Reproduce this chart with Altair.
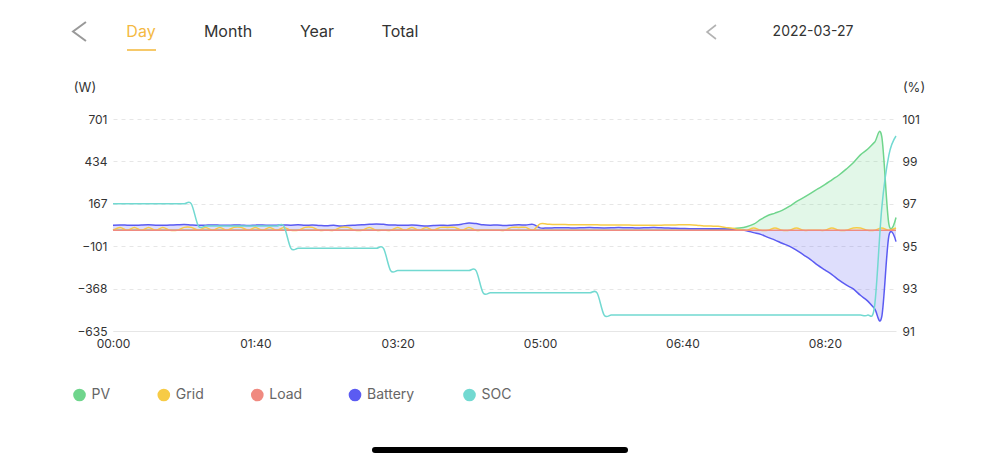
import altair as alt
import pandas as pd

# ---------------- data (5-minute samples, 00:00 .. 09:10) ----------------
minutes = list(range(0, 551, 5))

series_names = ["PV", "Grid", "Load", "Battery", "SOC"]
series_colors = ["#6FD58C", "#F7CB46", "#F08A80", "#5B5BF2", "#72D9D1"]

pv = [
    0, 0, 0, 0, 0, 0, 0, 0, 0, 0, 0, 0,
    0, 0, 0, 0, 0, 0, 0, 0, 0, 0, 0, 0,
    0, 0, 0, 0, 0, 0, 0, 0, 0, 0, 0, 0,
    0, 0, 0, 0, 0, 0, 0, 0, 0, 0, 0, 0,
    0, 0, 0, 0, 0, 0, 0, 0, 0, 0, 0, 0,
    0, 0, 0, 0, 0, 0, 0, 0, 0, 0, 0, 0,
    0, 0, 0, 0, 0, 0, 0, 0, 0, 0, 0, 0,
    3, 5, 8, 10, 14, 22, 38, 68, 93, 108, 125, 150,
    180, 205, 232, 260, 288, 318, 348, 385, 425, 475, 510, 555,
    590, 38, 80,
]
grid = [
    0, 18, 0, 18, 0, 18, 0, 18, 0, 0, 18, 18,
    0, 18, 0, 18, 0, 18, 18, 0, 18, 0, 18, 0,
    18, 0, 0, 18, 18, 0, 0, 0, 18, 18, 0, 0,
    18, 0, 0, 0, 18, 0, 18, 0, 18, 0, 18, 18,
    18, 0, 18, 0, 0, 0, 0, 0, 18, 18, 18, 0,
    40, 38, 36, 36, 35, 35, 34, 34, 34, 33, 33, 33,
    33, 32, 32, 32, 32, 32, 33, 33, 35, 35, 32, 27,
    26, 25, 18, 12, 4, 0, 14, 0, 0, 14, 0, 0,
    14, 0, 0, 0, 0, 14, 0, 0, 14, 14, 0, 0,
    14, 0, 14,
]
load = [
    0, 0, 0, 0, 0, 0, 0, 0, 0, 0, 0, 0,
    0, 0, 0, 0, 0, 0, 0, 0, 0, 0, 0, 0,
    0, 0, 0, 0, 0, 0, 0, 0, 0, 0, 0, 0,
    0, 0, 0, 0, 0, 0, 0, 0, 0, 0, 0, 0,
    0, 0, 0, 0, 0, 0, 0, 0, 0, 0, 0, 0,
    0, 0, 0, 0, 0, 0, 0, 0, 0, 0, 0, 0,
    0, 0, 0, 0, 0, 0, 0, 0, 0, 0, 0, 0,
    0, 0, 0, 0, 0, 0, 0, 0, 0, 0, 0, 0,
    0, 0, 0, 0, 0, 0, 0, 0, 0, 0, 0, 0,
    0, 0, 0,
]
battery = [
    32, 33, 32, 31, 33, 34, 32, 31, 33, 34, 36, 33,
    31, 32, 33, 32, 31, 33, 32, 30, 32, 33, 31, 32,
    33, 32, 34, 31, 33, 30, 28, 31, 26, 30, 32, 34,
    37, 40, 37, 33, 32, 31, 33, 30, 27, 30, 32, 30,
    33, 38, 46, 42, 34, 32, 33, 30, 32, 34, 33, 37,
    15, 14, 15, 16, 15, 14, 16, 17, 15, 14, 15, 17,
    16, 15, 14, 16, 17, 15, 14, 12, 11, 10, 10, 10,
    9, 9, 8, 5, 2, -3, -15, -26, -45, -62, -82, -100,
    -125, -155, -185, -220, -250, -280, -315, -345, -370, -410, -445, -495,
    -545, -35, -72,
]
soc = [
    97.0, 97.0, 97.0, 97.0, 97.0, 97.0, 97.0, 97.0, 97.0, 97.0, 97.0, 97.0,
    95.95, 95.95, 95.95, 95.95, 95.95, 95.95, 95.95, 95.95, 95.95, 95.95, 95.95, 95.95,
    95.95, 94.9, 94.9, 94.9, 94.9, 94.9, 94.9, 94.9, 94.9, 94.9, 94.9, 94.9,
    94.9, 94.9, 94.9, 93.85, 93.85, 93.85, 93.85, 93.85, 93.85, 93.85, 93.85, 93.85,
    93.85, 93.85, 93.85, 93.85, 92.8, 92.8, 92.8, 92.8, 92.8, 92.8, 92.8, 92.8,
    92.8, 92.8, 92.8, 92.8, 92.8, 92.8, 92.8, 92.8, 92.8, 91.75, 91.75, 91.75,
    91.75, 91.75, 91.75, 91.75, 91.75, 91.75, 91.75, 91.75, 91.75, 91.75, 91.75, 91.75,
    91.75, 91.75, 91.75, 91.75, 91.75, 91.75, 91.75, 91.75, 91.75, 91.75, 91.75, 91.75,
    91.75, 91.75, 91.75, 91.75, 91.75, 91.75, 91.75, 91.75, 91.75, 91.75, 91.75, 92.2,
    96.8, 99.3, 100.2,
]

w_ticks = [-635, -368, -101, 167, 434, 701]
pct_ticks = [91, 93, 95, 97, 99, 101]
x_ticks = [0, 100, 200, 300, 400, 500]

tabs = ["Day", "Month", "Year", "Total"]
date_label = "2022-03-27"

# ---------------- frames ----------------
rows = []
for name, vals in [("PV", pv), ("Grid", grid), ("Load", load), ("Battery", battery)]:
    for m, v in zip(minutes, vals):
        rows.append({"minute": m, "value": v, "series": name})
df_w = pd.DataFrame(rows)
df_soc = pd.DataFrame({"minute": minutes, "soc": soc, "series": "SOC"})
one = pd.DataFrame({"k": [0]})

FONT = "Inter"
color_scale = alt.Scale(domain=series_names, range=series_colors)

# plot area origin on the page: (113, 119)
OX, OY = 113, 119
W, H = 783, 212


def px(x):
    return alt.value(x - OX)


def py(y):
    return alt.value(y - OY)


x_enc = alt.X(
    "minute:Q",
    scale=alt.Scale(domain=[0, 550], nice=False, zero=False),
    axis=alt.Axis(
        values=x_ticks,
        labelExpr="pad('' + floor(datum.value / 60), 2, '0', 'left') + ':' + pad('' + (datum.value % 60), 2, '0', 'left')",
        title=None,
        grid=False,
        ticks=False,
        domain=True,
        domainColor="#E6E6E6",
        domainWidth=1,
        labelFont=FONT,
        labelFontSize=12,
        labelColor="#333333",
        labelPadding=7,
        labelFlush=False,
    ),
)

y_w = alt.Y(
    "value:Q",
    scale=alt.Scale(domain=[-635, 701], nice=False, zero=False),
    axis=alt.Axis(
        values=w_ticks,
        title=None,
        grid=True,
        gridDash=[4, 4],
        gridColor="#E6E6E6",
        ticks=False,
        domain=False,
        labelFont=FONT,
        labelFontSize=12,
        labelColor="#333333",
        labelPadding=6,
    ),
)

y_soc = alt.Y(
    "soc:Q",
    scale=alt.Scale(domain=[91, 101], nice=False, zero=False),
    axis=alt.Axis(
        orient="right",
        values=pct_ticks,
        title=None,
        grid=False,
        ticks=False,
        domain=False,
        labelFont=FONT,
        labelFontSize=12,
        labelColor="#333333",
        labelPadding=6,
    ),
)

color_enc = alt.Color("series:N", scale=color_scale, legend=None)

areas = (
    alt.Chart(df_w)
    .transform_filter(alt.FieldOneOfPredicate(field="series", oneOf=["PV", "Battery"]))
    .mark_area(interpolate="cardinal", opacity=0.2)
    .encode(x=x_enc, y=y_w, y2=alt.datum(0), color=color_enc)
)

line_layers = []
for name in ["PV", "Battery", "Grid", "Load"]:
    line_layers.append(
        alt.Chart(df_w)
        .transform_filter(alt.datum.series == name)
        .mark_line(interpolate="cardinal", strokeWidth=1.5)
        .encode(x=x_enc, y=y_w, color=color_enc)
    )

w_layer = alt.layer(areas, *line_layers)

soc_layer = (
    alt.Chart(df_soc)
    .mark_line(interpolate="cardinal", strokeWidth=1.5)
    .encode(x=x_enc, y=y_soc, color=color_enc)
)

# ---------------- header / decorations ----------------
deco = []
tab_x = [141, 228, 317, 400]
for i, t in enumerate(tabs):
    deco.append(
        alt.Chart(one)
        .mark_text(
            text=t,
            font=FONT,
            fontSize=16,
            color="#F4B942" if i == 0 else "#333333",
            align="center",
            baseline="middle",
        )
        .encode(x=px(tab_x[i]), y=py(32))
    )
deco.append(
    alt.Chart(one)
    .mark_rule(color="#F6C96A", strokeWidth=2)
    .encode(x=px(127), x2=px(156), y=py(50))
)
deco.append(
    alt.Chart(one)
    .mark_point(shape="M0.68,-1L-0.68,0L0.68,1", filled=False, size=361,
                strokeWidth=2, color="#999999", opacity=1)
    .encode(x=px(79.5), y=py(31.5))
)
deco.append(
    alt.Chart(one)
    .mark_point(shape="M0.64,-1L-0.64,0L0.64,1", filled=False, size=196,
                strokeWidth=1.6, color="#B3B3B3", opacity=1)
    .encode(x=px(711.5), y=py(32))
)
deco.append(
    alt.Chart(one)
    .mark_text(text=date_label, font=FONT, fontSize=14, color="#333333",
               align="center", baseline="middle")
    .encode(x=px(813), y=py(32))
)
deco.append(
    alt.Chart(one)
    .mark_text(text="(W)", font=FONT, fontSize=13, color="#333333",
               align="center", baseline="middle")
    .encode(x=px(85), y=py(88))
)
deco.append(
    alt.Chart(one)
    .mark_text(text="(%)", font=FONT, fontSize=13, color="#333333",
               align="center", baseline="middle")
    .encode(x=px(914), y=py(88))
)

# legend row
leg_dot_x = [79.5, 163.8, 257.3, 355, 469.5]
LEG_Y = 395
for name, c, lx in zip(series_names, series_colors, leg_dot_x):
    deco.append(
        alt.Chart(one)
        .mark_circle(size=160, color=c, opacity=1)
        .encode(x=px(lx), y=py(LEG_Y))
    )
    deco.append(
        alt.Chart(one)
        .mark_text(text=name, font=FONT, fontSize=14, color="#666666",
                   align="left", baseline="middle")
        .encode(x=px(lx + 12), y=py(LEG_Y))
    )

# home indicator
deco.append(
    alt.Chart(one)
    .mark_rule(color="#000000", strokeWidth=6, strokeCap="round")
    .encode(x=px(375), x2=px(625), y=py(450))
)

chart = (
    alt.layer(w_layer, soc_layer, *deco)
    .resolve_scale(y="independent")
    .properties(
        width=W,
        height=H,
        autosize=alt.AutoSizeParams(type="none"),
        padding={"left": OX - 8, "top": OY - 8, "right": 88, "bottom": 124},
        background="white",
    )
    .configure_view(stroke=None)
)

chart.save("out.html", embed_options={"renderer": "svg", "actions": False})
